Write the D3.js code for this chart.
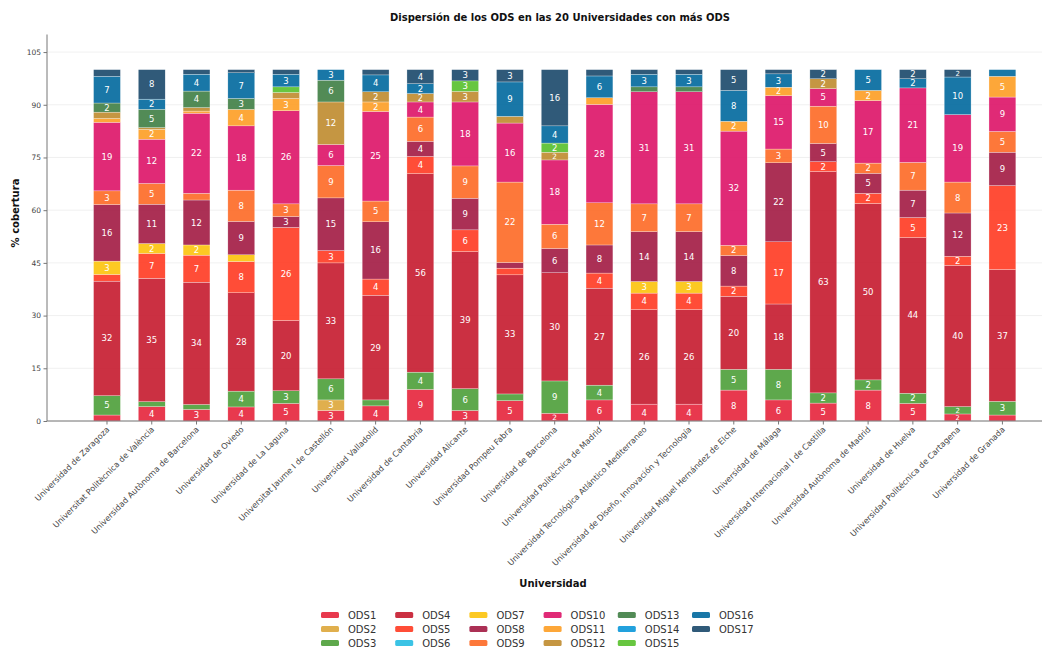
<!DOCTYPE html>
<html>
<head>
<meta charset="utf-8">
<script src="https://cdn.jsdelivr.net/npm/d3@7"></script>
<style>
  html, body { margin: 0; padding: 0; background: #fff; }
  svg { display: block; font-family: "DejaVu Sans", sans-serif; }
</style>
</head>
<body>
<svg id="chart" width="1054" height="648"></svg>
<script>
// ---------- DATA ----------
const universities = [
  "Universidad de Zaragoza",
  "Universitat Politècnica de València",
  "Universidad Autònoma de Barcelona",
  "Universidad de Oviedo",
  "Universidad de La Laguna",
  "Universitat Jaume I de Castellón",
  "Universidad Valladolid",
  "Universidad de Cantabria",
  "Universidad Alicante",
  "Universidad Pompeu Fabra",
  "Universidad de Barcelona",
  "Universidad Politécnica de Madrid",
  "Universidad Tecnológica Atlántico Mediterraneo",
  "Universidad de Diseño, Innovación y Tecnología",
  "Universidad Miguel Hernández de Elche",
  "Universidad de Málaga",
  "Universidad Internacional I de Castilla",
  "Universidad Autònoma de Madrid",
  "Universidad de Huelva",
  "Universidad Politécnica de Cartagena",
  "Universidad de Granada"
];

const ODS1  = [1.7, 4.1, 3.3, 4.0, 5.0, 3.0, 4.3, 9.0, 3.0, 5.8, 2.2, 6.0, 4.8, 4.8, 8.8, 6.0, 5.1, 8.8, 5.0, 2.0, 1.7];
const ODS2  = [0, 0, 0, 0, 0, 3.0, 0, 0, 0, 0, 0, 0, 0, 0, 0, 0, 0, 0, 0, 0, 0];
const ODS3  = [5.5, 1.4, 1.4, 4.5, 3.6, 6.0, 1.7, 4.9, 6.2, 1.9, 9.2, 4.2, 0, 0, 5.9, 8.7, 2.9, 2.9, 2.9, 2.1, 3.9];
const ODS4  = [32.6, 35.1, 34.8, 28.0, 20.0, 33.0, 29.8, 56.5, 39.0, 33.9, 30.8, 27.6, 26.9, 26.9, 20.8, 18.6, 63.0, 50.2, 44.3, 40.2, 37.5];
const ODS5  = [1.9, 7.1, 7.7, 8.9, 26.5, 3.5, 4.6, 4.9, 6.2, 1.9, 0, 4.3, 4.7, 4.7, 2.9, 17.7, 2.8, 2.9, 5.7, 2.6, 23.9];
const ODS6  = [0, 0, 0, 0, 0, 0, 0, 0, 0, 0, 0, 0, 0, 0, 0, 0, 0, 0, 0, 0, 0];
const ODS7  = [3.8, 2.8, 2.9, 1.9, 0, 0, 0, 0, 0, 0, 0, 0, 3.3, 3.3, 0, 0, 0, 0, 0, 0, 0];
const ODS8  = [16.1, 11.2, 12.8, 9.5, 3.1, 15.0, 16.3, 4.3, 9.0, 1.6, 6.9, 8.0, 14.2, 14.2, 8.7, 22.5, 5.2, 5.7, 7.8, 12.3, 9.5];
const ODS9  = [3.9, 5.9, 1.9, 8.9, 3.6, 9.2, 5.9, 6.9, 9.2, 22.9, 6.9, 12.0, 7.9, 7.9, 2.9, 3.9, 10.6, 2.9, 7.9, 8.8, 5.9];
const ODS10 = [19.5, 12.6, 22.8, 18.3, 26.5, 6.0, 25.5, 4.3, 18.2, 16.8, 18.3, 28.0, 31.9, 31.9, 32.5, 15.2, 5.0, 17.8, 21.2, 19.2, 9.8];
const ODS11 = [1.1, 2.8, 0.6, 4.7, 3.5, 0, 2.7, 0, 0, 0, 0, 1.9, 0, 0, 2.8, 2.4, 0, 2.9, 0, 0, 5.9];
const ODS12 = [1.8, 0.5, 1.0, 0, 1.7, 12.1, 2.9, 2.4, 3.0, 1.9, 2.2, 0, 0, 0, 0, 0, 2.8, 0, 0, 0, 0];
const ODS13 = [2.6, 5.2, 4.7, 3.1, 0, 6.2, 0, 0, 0, 0, 0, 0, 1.4, 1.4, 0, 0, 0, 0, 0, 0, 0];
const ODS14 = [0, 0, 0, 0, 0, 0, 0, 0, 0, 0, 0, 0, 0, 0, 0, 0, 0, 0, 0, 0, 0];
const ODS15 = [0, 0, 0, 0, 1.6, 0, 0, 0, 3.0, 0, 2.6, 0, 0, 0, 0, 0, 0, 0, 0, 0, 0];
const ODS16 = [7.6, 2.9, 4.8, 7.3, 3.6, 3.0, 4.8, 2.8, 0, 9.8, 4.9, 6.2, 3.6, 3.6, 8.8, 3.8, 0, 5.9, 2.6, 10.7, 1.9];
const ODS17 = [1.9, 8.4, 1.3, 0.9, 1.3, 0, 1.5, 4.0, 3.2, 3.5, 16.0, 1.8, 1.3, 1.3, 5.9, 1.2, 2.6, 0, 2.6, 2.1, 0];

const seriesNames = ["ODS1","ODS2","ODS3","ODS4","ODS5","ODS6","ODS7","ODS8","ODS9",
                     "ODS10","ODS11","ODS12","ODS13","ODS14","ODS15","ODS16","ODS17"];
const seriesValues = [ODS1, ODS2, ODS3, ODS4, ODS5, ODS6, ODS7, ODS8, ODS9,
                      ODS10, ODS11, ODS12, ODS13, ODS14, ODS15, ODS16, ODS17];
const seriesColors = ["#E5243B","#DDA63A","#4C9F38","#C5192D","#FF3A21","#26BDE2","#FCC30B","#A21942","#FD6925",
                      "#DD1367","#FD9D24","#BF8B2E","#3F7E44","#0A97D9","#56C02B","#00689D","#19486A"];
const yTicks = [0, 15, 30, 45, 60, 75, 90, 105];

const titleText = "Dispersión de los ODS en las 20 Universidades con más ODS";
const xTitle = "Universidad";
const yTitle = "% cobertura";

// ---------- BUILD TABLE ----------
const table = universities.map((u, i) => {
  const row = { uni: u };
  seriesNames.forEach((s, k) => row[s] = seriesValues[k][i]);
  return row;
});

const svg = d3.select("#chart");
const plotLeft = 47, plotRight = 1042, plotBottom = 421, plotTop = 34.5;

const x = d3.scaleBand()
  .domain(universities)
  .range([84.6, 1024.8])
  .paddingInner(0.4)
  .paddingOuter(0.2);

const y = d3.scaleLinear().domain([0, 110]).range([plotBottom, plotTop]);

const color = d3.scaleOrdinal().domain(seriesNames).range(seriesColors);

// gridlines
svg.append("g").selectAll("line")
  .data(yTicks)
  .join("line")
  .attr("x1", plotLeft).attr("x2", plotRight)
  .attr("y1", d => y(d)).attr("y2", d => y(d))
  .attr("stroke", "#ececec").attr("stroke-width", 0.8);

// stacked bars
const stack = d3.stack().keys(seriesNames);
const layers = stack(table);

const gBars = svg.append("g");
layers.forEach(layer => {
  const g = gBars.append("g").attr("fill", color(layer.key)).attr("fill-opacity", 0.9);
  g.selectAll("rect")
    .data(layer.filter(d => d[1] - d[0] > 0))
    .join("rect")
    .attr("x", d => x(d.data.uni))
    .attr("width", x.bandwidth())
    .attr("y", d => y(d[1]))
    .attr("height", d => y(d[0]) - y(d[1]))
    .attr("stroke", "#fff")
    .attr("stroke-width", 0.4)
    .attr("stroke-opacity", 0.7);
});

// labels inside segments
const gLab = svg.append("g");
layers.forEach(layer => {
  gLab.selectAll(null)
    .data(layer.filter(d => d[1] - d[0] >= 2))
    .join("text")
    .attr("x", d => x(d.data.uni) + x.bandwidth() / 2)
    .attr("y", d => (y(d[0]) + y(d[1])) / 2)
    .attr("dy", "0.36em")
    .attr("text-anchor", "middle")
    .attr("font-size", d => Math.min(8.5, (y(d[0]) - y(d[1])) * 0.95))
    .attr("fill", "#fff")
    .text(d => Math.floor(d[1] - d[0] + 1e-6));
});

// axes
const yAxis = d3.axisLeft(y).tickValues(yTicks).tickSize(3.5).tickPadding(2.5);
const gy = svg.append("g").attr("transform", `translate(${plotLeft},0)`).call(yAxis);
gy.select(".domain").attr("stroke", "#777").attr("d", `M0,${plotTop}V${plotBottom}`);
gy.selectAll(".tick line").attr("stroke", "#777");
gy.selectAll(".tick text").attr("font-size", 7.5).attr("fill", "#444").attr("font-family", "DejaVu Sans");

const xAxis = d3.axisBottom(x).tickSize(3.5).tickFormat("");
const gx = svg.append("g").attr("transform", `translate(0,${plotBottom})`).call(xAxis);
gx.select(".domain").attr("stroke", "#777").attr("d", `M${plotLeft},0H${plotRight}`);
gx.selectAll(".tick line").attr("stroke", "#777");

// rotated x labels
svg.append("g").selectAll("text")
  .data(universities)
  .join("text")
  .attr("transform", d => `translate(${x(d) + x.bandwidth() / 2 + 3},${plotBottom + 9}) rotate(-45)`)
  .attr("text-anchor", "end")
  .attr("font-size", 8.1)
  .attr("fill", "#444")
  .text(d => d);

// titles
svg.append("text")
  .attr("x", 560).attr("y", 21)
  .attr("text-anchor", "middle")
  .attr("font-size", 10).attr("font-weight", "bold").attr("fill", "#111")
  .text(titleText);

svg.append("text")
  .attr("x", 553).attr("y", 587)
  .attr("text-anchor", "middle")
  .attr("font-size", 10).attr("font-weight", "bold").attr("fill", "#111")
  .text(xTitle);

svg.append("text")
  .attr("transform", `translate(19,213) rotate(-90)`)
  .attr("text-anchor", "middle")
  .attr("font-size", 10).attr("font-weight", "bold").attr("fill", "#111")
  .text(yTitle);

// legend (column-major, 3 rows)
const legend = svg.append("g");
seriesNames.forEach((s, k) => {
  const col = Math.floor(k / 3), row = k % 3;
  const lx = 321 + col * 74.2, ly = 615 + row * 14;
  legend.append("rect")
    .attr("x", lx).attr("y", ly - 3)
    .attr("width", 18).attr("height", 6).attr("rx", 1.5)
    .attr("fill", color(s)).attr("fill-opacity", 0.9);
  legend.append("text")
    .attr("x", lx + 27).attr("y", ly).attr("dy", "0.35em")
    .attr("font-size", 10).attr("fill", "#333")
    .text(s);
});
</script>
</body>
</html>
